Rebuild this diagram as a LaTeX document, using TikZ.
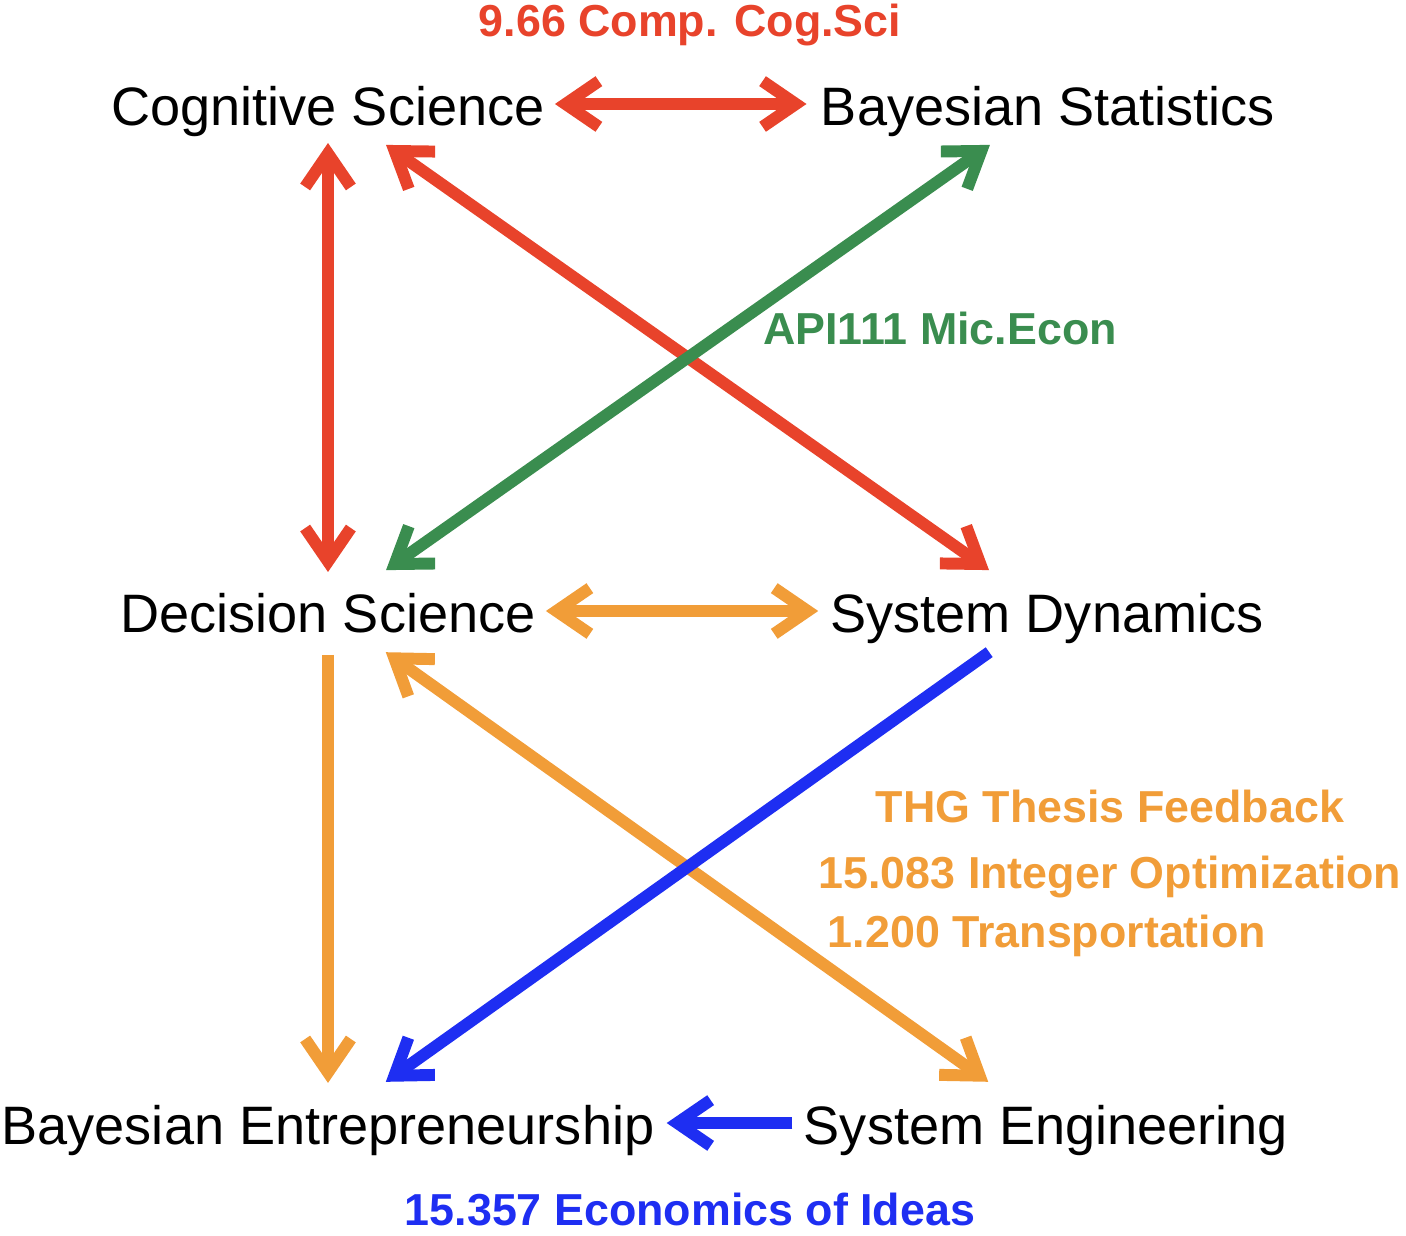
\documentclass[tikz,border=0pt]{standalone}
\usepackage{fontspec}
\setmainfont{Liberation Sans}
\usetikzlibrary{arrows.meta}
\definecolor{cogred}{HTML}{E8432B}
\definecolor{econgreen}{HTML}{3A8D4F}
\definecolor{thesisorange}{HTML}{F19D38}
\definecolor{ideasblue}{HTML}{1E2EF2}

\begin{document}
\begin{tikzpicture}[
  x=0.02cm, y=-0.02cm,
  every node/.style={inner sep=0pt},
  field/.style={font=\fontsize{30.8}{36}\selectfont, text height=31pt, text depth=6pt},
  course/.style={font=\fontsize{25.5}{30}\selectfont\bfseries, anchor=base},
  link/.style={line width=6.8pt},
  >={Straight Barb[length=19pt,width=26pt]},
]
\useasboundingbox (0,0) rectangle (1406,1236);

% Fields
\node[field] (cog) at (328,104) {Cognitive Science};
\node[field] (bst) at (1048,104) {Bayesian Statistics};
\node[field] (dec) at (328,611) {Decision Science};
\node[field] (dyn) at (1047,611) {System Dynamics};
\node[field] (ent) at (328,1123) {Bayesian Entrepreneurship};
\node[field] (eng) at (1046,1123) {System Engineering};

% Courses
\node[course, color=cogred] (comp) at (690,37) {9.66 Comp. Cog.Sci};
\node[course, color=econgreen] (micro) at (940,345) {API111 Mic.Econ};
\node[course, color=thesisorange] (thg) at (1110,822) {THG Thesis Feedback};
\node[course, color=thesisorange] (intopt) at (1110,888) {15.083 Integer Optimization};
\node[course, color=thesisorange] (transp) at (1047,947) {1.200 Transportation};
\node[course, color=ideasblue] (ideas) at (690,1225) {15.357 Economics of Ideas};

% Red links
\draw[link, cogred, <->, shorten <=5.7pt, shorten >=8pt] (cog.east) -- (bst.west);
\draw[link, cogred, <->, shorten <=22.2pt, shorten >=22.2pt] (cog.center) -- (dec.center);
\draw[link, cogred, <->, shorten <=40.4pt, shorten >=40.4pt] (cog.center) -- (dyn.center);

% Green link
\draw[link, econgreen, <->, shorten <=40.4pt, shorten >=40.4pt] (dec.center) -- (bst.center);

% Orange links
\draw[link, thesisorange, <->, shorten <=5.7pt, shorten >=6.8pt] (dec.east) -- (dyn.west);
\draw[link, thesisorange, ->, shorten <=25pt, shorten >=22.8pt] (dec.center) -- (ent.center);
\draw[link, thesisorange, <->, shorten <=40.4pt, shorten >=40.4pt] (dec.center) -- (eng.center);

% Blue links
\draw[link, ideasblue, ->, shorten <=40.4pt, shorten >=40.4pt] (dyn.center) -- (ent.center);
\draw[link, ideasblue, ->, shorten <=6.3pt, shorten >=6.8pt] (eng.west) -- (ent.east);

\end{tikzpicture}
\end{document}
